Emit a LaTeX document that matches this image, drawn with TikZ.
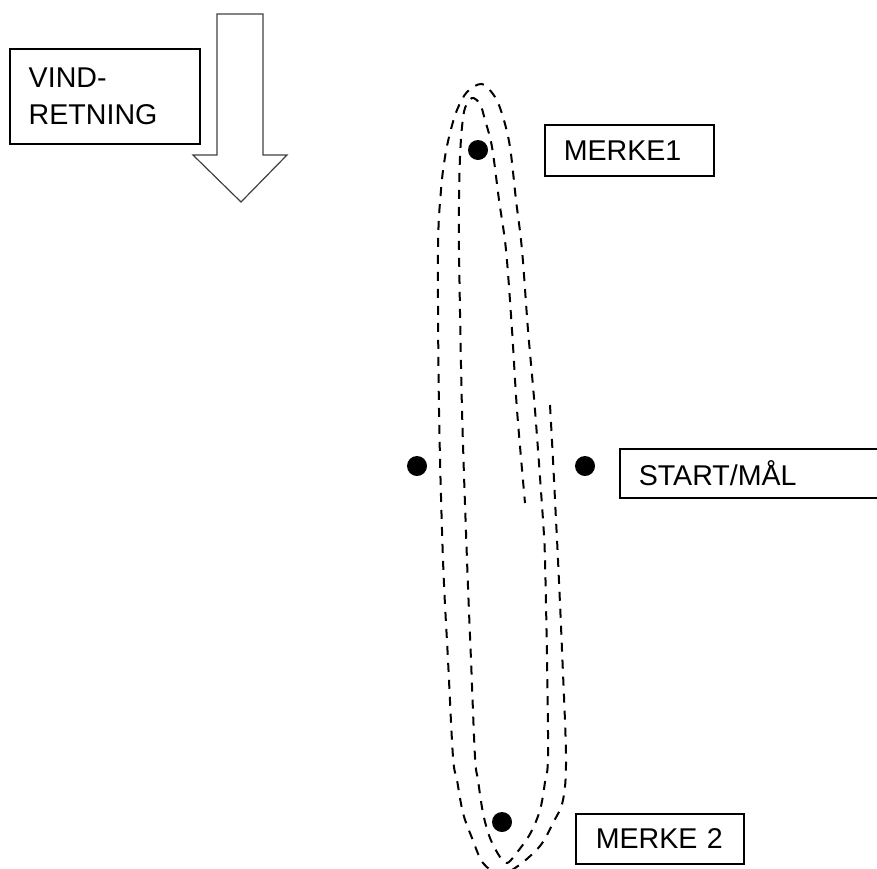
\documentclass[tikz,border=0pt]{standalone}
\usepackage{fontspec}
\setmainfont{Liberation Sans}
\usepackage{tikz}
\usetikzlibrary{positioning}

\begin{document}
\begin{tikzpicture}[x=0.5pt,y=-0.5pt,
    every node/.style={font=\fontsize{14.3}{18.5}\selectfont},
    tagbox/.style={draw,line width=0.75pt,anchor=north west,align=left,inner xsep=9.5pt,inner ysep=0pt},
    buoy/.style={circle,fill=black,inner sep=0pt,minimum size=10pt},
    track/.style={line width=1pt,dash pattern=on 4.5pt off 4pt}]
\useasboundingbox (0,0) rectangle (877,868);

% wind direction
\draw[line width=0.6pt,black!75] (217,14) -- (263,14) -- (263,155) -- (287,155)
  -- (241,202) -- (193,155) -- (217,155) -- cycle;
\node[tagbox,text width=76pt,minimum height=47.5pt] (wind) at (9,48) {VIND-\\RETNING};

% marks and start line
\node[buoy] (merke1) at (478,150) {};
\node[buoy] (merke2) at (502,822) {};
\node[buoy] (startL) at (417,466) {};
\node[buoy] (startR) at (585,466) {};

\node[tagbox,text width=65.5pt,minimum height=25.5pt] (lab1) at (544,124) {MERKE1};
\node[tagbox,inner xsep=10pt,text width=64pt,minimum height=25pt] (lab2) at (575,813) {MERKE 2};
\node[tagbox,text width=121.5pt,minimum height=24.5pt] (labstart) at (619,448) {START/MÅL};

% sailed course
\draw[track] plot[smooth,tension=0.55] coordinates {
  (550,405) (553,460) (556,520) (558,560) (562,650) (566,757) (563,800)
  (553,823) (540,846) (518,866) (500,874) (483,863) (472,838) (463,813)
  (457,780) (453,757) (448,660) (443,560) (439,410) (438,250) (441,190)
  (445,157) (450,133) (457,110) (467,92) (482,84) (495,97) (503,117)
  (510,147) (516,200) (522,250) (528,330) (535,410) (543,520) (545,560)
  (547,660) (548,757) (545,782) (540,810) (530,834) (515,855) (507,863)
  (500,857) (490,838) (483,813) (478,780) (475,757) (471,660) (467,560)
  (462,410) (459,250) (459,200) (460,157) (462,127) (465,108) (472,98)
  (480,104) (485,120) (492,147) (499,200) (506,250) (512,330) (517,410)
  (525,503)};
\end{tikzpicture}
\end{document}
